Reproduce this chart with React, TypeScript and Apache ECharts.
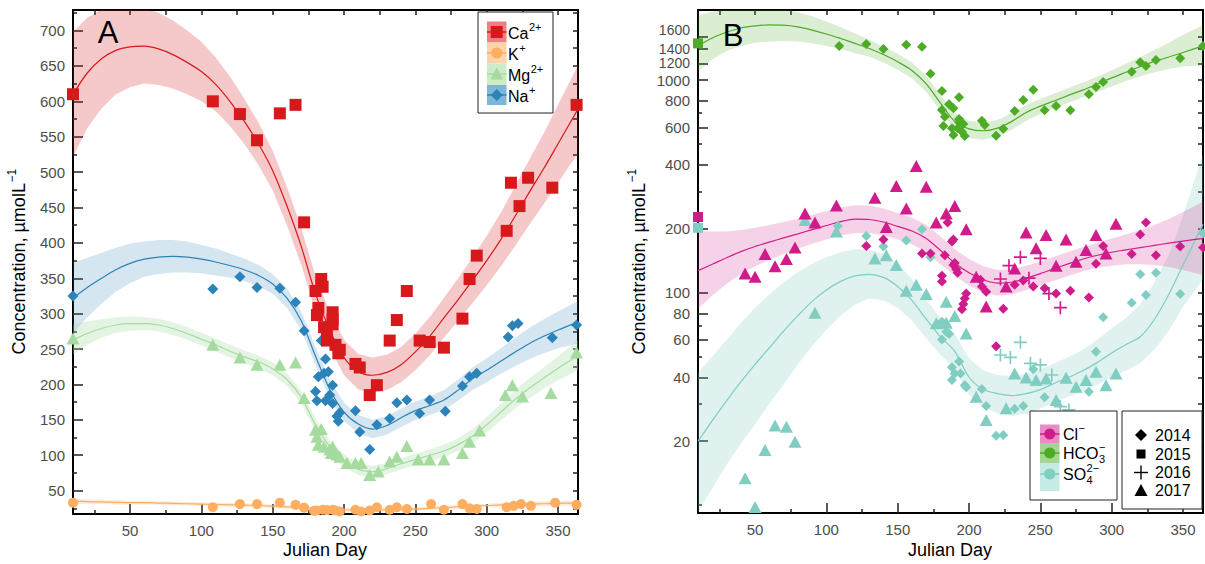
import React, { useEffect, useRef } from "react";
import * as echarts from "echarts";

const FONT = '"Liberation Sans", Arial, Helvetica, sans-serif';
const LABEL_COLOR = "#4d4d4d";

// ---------- shared axis ranges / tick values ----------
const X_MIN = 10;
const X_MAX = 364;
const X_MAJOR = [50, 100, 150, 200, 250, 300, 350];
const X_MINOR = [25, 75, 125, 175, 225, 275, 325];
const X_ALL = [25, 50, 75, 100, 125, 150, 175, 200, 225, 250, 275, 300, 325, 350];

const A_Y_MIN = 17;
const A_Y_MAX = 729;
const A_Y_MAJOR = [50, 100, 150, 200, 250, 300, 350, 400, 450, 500, 550, 600, 650, 700];
const A_Y_MINOR = [25, 75, 125, 175, 225, 275, 325, 375, 425, 475, 525, 575, 625, 675, 725];

const B_Y_MIN = 9.19;
const B_Y_MAX = 2139;
const B_Y_LOW = [20, 40, 60, 80, 100, 200, 400, 600, 800, 1000];
const B_Y_1200 = [1200];
const B_Y_1400 = [1400];
const B_Y_1600 = [1600];
const B_Y_MINOR = [10, 30, 50, 70, 300, 500, 700];

// ---------- fitted curves (days shared) ----------
const FIT_DAYS = [10, 20, 30, 40, 50, 60, 70, 80, 90, 100, 110, 120, 130, 140, 150, 160, 170, 180, 190, 200, 210, 220, 230, 240, 250, 260, 270, 280, 290, 300, 310, 320, 330, 340, 350, 364];

// Panel A
const CA_FIT = [610, 640, 660, 672, 677, 678, 674, 666, 655, 642, 624, 600, 572, 540, 502, 452, 395, 328, 277, 238, 218, 213, 217, 228, 246, 268, 294, 320, 347, 375, 405, 438, 472, 505, 540, 589];
const CA_LO = [522, 562, 590, 610, 620, 625, 623, 618, 610, 600, 586, 565, 540, 510, 474, 425, 369, 303, 252, 213, 193, 188, 192, 203, 220, 241, 266, 290, 315, 340, 367, 396, 426, 455, 485, 527];
const CA_HI = [698, 718, 730, 734, 734, 731, 725, 714, 700, 684, 662, 635, 604, 570, 530, 479, 421, 353, 302, 263, 243, 238, 242, 253, 272, 295, 322, 350, 379, 410, 443, 480, 518, 555, 595, 651];

const K_FIT = [35, 34.5, 34, 33.5, 33, 33, 32.5, 32, 31.5, 31, 30.5, 30, 29.5, 29, 28, 27, 26, 25, 24, 23, 22.5, 22.5, 23, 23.5, 24, 25, 26, 27, 28, 29, 30, 30.5, 31, 31.5, 32, 32.5];
const K_LO = [31, 31, 31, 30.5, 30.5, 30.5, 30, 29.5, 29, 28.5, 28, 27.5, 27, 26.5, 25.5, 24.5, 23.5, 22.5, 21.5, 20.5, 20, 20, 20.5, 21, 21.5, 22.5, 23.5, 24.5, 25.5, 26.5, 27, 27.5, 28, 28, 28.5, 28.5];
const K_HI = [39, 38, 37, 36.5, 35.5, 35.5, 35, 34.5, 34, 33.5, 33, 32.5, 32, 31.5, 30.5, 29.5, 28.5, 27.5, 26.5, 25.5, 25, 25, 25.5, 26, 26.5, 27.5, 28.5, 29.5, 30.5, 31.5, 33, 33.5, 34, 35, 35.5, 36.5];

const MG_FIT = [263, 272, 279, 284, 286, 286, 284, 279, 272, 264, 256, 247, 239, 232, 222, 207, 182, 143, 112, 92, 80, 77, 81, 88, 94, 100, 106, 115, 127, 143, 161, 179, 195, 209, 223, 241];
const MG_LO = [242, 256, 266, 273, 276, 277, 275, 270, 263, 255, 247, 238, 230, 223, 213, 198, 173, 134, 103, 83, 72, 69, 73, 80, 86, 92, 97, 106, 117, 132, 149, 166, 181, 194, 206, 220];
const MG_HI = [285, 289, 292, 295, 296, 295, 293, 288, 281, 273, 265, 256, 248, 241, 231, 216, 191, 152, 121, 101, 88, 85, 89, 96, 102, 108, 115, 124, 137, 154, 173, 192, 209, 224, 240, 262];

const NA_FIT = [322, 337, 350, 362, 371, 377, 380, 381, 380, 377, 373, 368, 362, 354, 342, 322, 290, 240, 193, 161, 144, 137, 142, 153, 163, 170, 178, 192, 208, 220, 233, 246, 258, 268, 277, 288];
const NA_LO = [272, 295, 314, 331, 343, 352, 356, 358, 358, 357, 354, 351, 346, 339, 328, 308, 277, 227, 180, 148, 131, 124, 129, 140, 150, 157, 164, 177, 192, 203, 215, 226, 236, 244, 251, 258];
const NA_HI = [372, 379, 386, 393, 399, 402, 404, 404, 402, 397, 392, 385, 378, 369, 356, 336, 303, 253, 206, 174, 157, 150, 155, 166, 176, 183, 192, 207, 224, 237, 251, 266, 280, 292, 303, 318];

// Panel B
const HCO3_FIT = [1450, 1580, 1680, 1760, 1800, 1820, 1815, 1780, 1720, 1650, 1570, 1490, 1410, 1320, 1220, 1110, 960, 780, 640, 590, 578, 595, 640, 705, 755, 800, 850, 900, 960, 1025, 1090, 1160, 1225, 1285, 1350, 1450];
const HCO3_LO = [1100, 1250, 1370, 1450, 1500, 1520, 1530, 1520, 1490, 1450, 1400, 1340, 1290, 1210, 1120, 1020, 880, 715, 588, 535, 525, 540, 585, 645, 695, 740, 785, 830, 880, 935, 990, 1040, 1090, 1130, 1160, 1175];
const HCO3_HI = [2020, 2100, 2150, 2180, 2190, 2180, 2150, 2090, 2000, 1890, 1780, 1660, 1550, 1440, 1330, 1210, 1050, 850, 700, 645, 630, 650, 700, 765, 815, 865, 920, 975, 1040, 1115, 1195, 1285, 1385, 1500, 1630, 1820];

const CL_FIT = [127, 136, 146, 156, 165, 173, 181, 189, 198, 207, 216, 222, 221, 215, 205, 195, 180, 158, 138, 124, 115, 111, 112, 117, 123, 130, 137, 144, 150, 155, 159, 163, 167, 171, 175, 180];
const CL_LO = [84, 97, 110, 122, 133, 143, 152, 161, 170, 178, 186, 191, 191, 186, 178, 169, 155, 136, 120, 108, 100, 97, 98, 103, 108, 114, 120, 126, 131, 134, 136, 136, 135, 132, 128, 121];
const CL_HI = [195, 194, 194, 197, 202, 208, 215, 223, 232, 242, 252, 258, 257, 249, 237, 225, 209, 184, 160, 144, 133, 128, 129, 134, 140, 148, 156, 164, 172, 180, 188, 197, 208, 222, 240, 268];

const SO4_FIT = [20, 25, 31, 38, 46, 55, 66, 78, 91, 103, 113, 120, 122, 118, 107, 92, 75, 62, 53, 40, 35, 33.5, 32.8, 33.5, 35, 37.5, 40, 43, 47, 52, 57, 62, 75, 98, 135, 210];
const SO4_LO = [9.3, 12, 15.5, 19.5, 24, 30, 37, 46, 56, 67, 78, 88, 94, 92, 85, 74, 61, 51, 44, 33, 29, 27, 26.3, 27, 28.5, 30.5, 32.5, 34.5, 37, 40, 43, 46.5, 54, 66, 86, 115];
const SO4_HI = [42, 50, 60, 72, 85, 98, 112, 125, 137, 147, 155, 160, 160, 152, 137, 116, 93, 76, 64, 49, 43, 41, 40.5, 41.5, 43.5, 46.5, 50, 54, 60, 68, 76, 88, 112, 150, 230, 450];

// ---------- observations [Julian day, µmol/L] ----------
const CA_PTS = [[10, 610], [108, 600], [127, 582], [139, 545], [155, 583], [166, 595], [172, 429], [184, 349], [185, 338], [180, 332], [182, 308], [181, 298], [192, 302], [192, 292], [186, 281], [192, 285], [188, 272], [188, 262], [194, 256], [197, 249], [196, 244], [208, 229], [211, 224], [223, 199], [218, 185], [232, 262], [237, 291], [244, 332], [253, 262], [260, 260], [270, 252], [283, 293], [288, 349], [293, 382], [314, 417], [317, 485], [323, 452], [329, 492], [346, 478], [363, 595]];
const K_PTS = [[10, 33], [108, 26.5], [127, 31], [139, 31], [155, 33], [166, 30], [172, 26], [179, 21.5], [181, 22], [185, 23], [188, 22.5], [192, 23], [194, 22], [197, 20.5], [208, 23], [212, 20.5], [218, 22], [223, 26.5], [232, 23], [237, 26.5], [244, 24], [261, 31], [270, 23], [283, 31], [288, 25], [293, 24], [314, 26.5], [319, 28.5], [324, 31], [331, 28.5], [348, 33], [363, 30]];
const MG_PTS = [[10, 265], [108, 256], [127, 238], [139, 228], [155, 228], [166, 231], [172, 181], [180, 136], [184, 137], [181, 126], [182, 115], [186, 112], [190, 108], [192, 112], [191, 103], [195, 101], [197, 98], [202, 89], [208, 89], [212, 89], [218, 72], [224, 77], [232, 91], [237, 98], [244, 113], [252, 94], [260, 94], [270, 94], [283, 103], [288, 119], [295, 135], [313, 185], [318, 199], [325, 183], [345, 188], [363, 245]];
const NA_PTS = [[10, 325], [108, 335], [127, 352], [139, 337], [155, 336], [166, 316], [172, 276], [184, 262], [187, 236], [189, 218], [186, 216], [182, 211], [180, 190], [181, 177], [192, 199], [187, 177], [190, 185], [192, 173], [195, 155], [197, 160], [196, 148], [208, 163], [211, 133], [218, 108], [223, 143], [232, 152], [237, 174], [244, 178], [253, 159], [260, 178], [271, 162], [283, 198], [288, 211], [293, 216], [315, 267], [318, 283], [322, 286], [346, 266], [363, 284]];

const HCO3_2014 = [[109, 1449], [128, 1480], [140, 1402], [156, 1469], [167, 1438], [173, 1073], [181, 890], [193, 831], [181, 724], [186, 770], [189, 738], [183, 673], [193, 657], [182, 609], [188, 594], [192, 594], [189, 552], [195, 572], [197, 546], [196, 622], [193, 634], [209, 645], [211, 615], [219, 548], [224, 591], [232, 716], [238, 807], [245, 902], [253, 722], [261, 756], [271, 722], [284, 858], [289, 929], [294, 980], [314, 1096], [320, 1214], [324, 1166], [331, 1245], [348, 1268], [364, 1449]];
const HCO3_2015 = [[10, 1490]];

const CL_2014 = [[128, 166], [140, 178], [167, 153], [173, 153], [185, 214], [188, 174], [189, 178], [183, 150], [189, 135], [190, 138], [192, 124], [191, 129], [181, 120], [181, 113], [198, 99], [197, 94], [196, 88.5], [195, 83.5], [208, 115], [209, 107], [212, 101], [224, 84], [232, 109], [238, 114], [245, 107], [253, 105], [261, 99], [271, 102], [284, 95], [289, 137], [294, 166], [314, 152], [320, 188], [324, 214], [331, 150], [348, 165], [364, 163], [219, 56]];
const CL_2015 = [[10, 227]];
const CL_2016 = [[222, 116], [228, 134], [236, 147], [250, 145], [242, 117], [256, 99], [264, 85]];
const CL_2017 = [[43, 123], [50, 119], [57, 152], [64, 133], [72, 144], [78, 163], [85, 236], [92, 214], [107, 257], [134, 280], [142, 204], [149, 318], [156, 249], [163, 395], [170, 315], [177, 214], [184, 236], [190, 256], [198, 199], [205, 119], [212, 86], [226, 107], [232, 130], [240, 192], [247, 162], [254, 187], [261, 134], [268, 178], [275, 140], [282, 159], [289, 187], [296, 153], [303, 211]];

const SO4_2014 = [[108, 206], [128, 185], [140, 165], [156, 176], [167, 199], [173, 147], [181, 73], [183, 70.5], [184, 65.5], [181, 60.3], [186, 64], [188, 44.6], [193, 47.4], [194, 41.7], [188, 38.8], [190, 41.7], [197, 36.7], [198, 35.9], [209, 35.2], [212, 29.3], [219, 21.2], [224, 21.4], [232, 28.4], [238, 29.3], [245, 43.6], [253, 32.2], [284, 34.2], [289, 52.8], [294, 76.6], [314, 89.7], [320, 122], [324, 97.5], [331, 124], [348, 98.6], [364, 190]];
const SO4_2015 = [[10, 202]];
const SO4_2016 = [[236, 58.4], [222, 50.9], [229, 49.6], [243, 46.5], [250, 45.7], [258, 41], [264, 29.1], [270, 28.1]];
const SO4_2017 = [[43, 13.4], [50, 9.8], [57, 18.2], [64, 23.7], [72, 23.4], [78, 19.9], [85, 220], [92, 80.5], [107, 194], [134, 145], [142, 150], [149, 135], [156, 102], [163, 109], [170, 98.6], [184, 90.7], [177, 71.8], [184, 72.2], [190, 77.7], [198, 64.2], [205, 32.4], [212, 25.2], [226, 28.6], [232, 41.7], [240, 39.9], [247, 38.8], [254, 39.5], [261, 31.3], [268, 39.8], [275, 36.1], [282, 38.8], [289, 42.5], [296, 36.7], [303, 41.7]];

// ---------- colours ----------
const C = {
  ca: "#d7191c", caBand: "rgba(215,25,28,0.24)", caSw: "#ee8184",
  k: "#fdae61", kBand: "rgba(253,174,97,0.25)", kSw: "#fdd3a8",
  mg: "#a6dba0", mgBand: "rgba(166,219,160,0.3)", mgSw: "#cdebc8",
  na: "#2b83ba", naBand: "rgba(43,131,186,0.2)", naSw: "#80b5da",
  cl: "#d01c8b", clBand: "rgba(208,28,139,0.2)", clSw: "#e68dc4",
  hco3: "#4dac26", hco3Band: "rgba(77,172,38,0.2)", hco3Sw: "#a5d690",
  so4: "#80cdc1", so4Band: "rgba(128,205,193,0.25)", so4Sw: "#c6ebe5",
};

const CROSS = "path://M4.35,0H5.65V10H4.35Z M0,4.35H10V5.65H0Z";

function measure(s: string, size: number): number {
  const ctx = document.createElement("canvas").getContext("2d");
  if (!ctx) return s.length * size * 0.55;
  ctx.font = `${size}px ${FONT}`;
  return ctx.measureText(s).width;
}

function band(xi: number, yi: number, lo: number[], hi: number[], color: string) {
  return {
    type: "custom",
    xAxisIndex: xi,
    yAxisIndex: yi,
    clip: true,
    silent: true,
    z: 1,
    data: [[FIT_DAYS[0], lo[0]]],
    renderItem: (_p: any, api: any) => {
      const pts: number[][] = [];
      for (let i = 0; i < FIT_DAYS.length; i++) pts.push(api.coord([FIT_DAYS[i], hi[i]]));
      for (let i = FIT_DAYS.length - 1; i >= 0; i--) pts.push(api.coord([FIT_DAYS[i], lo[i]]));
      return { type: "polygon", shape: { points: pts }, style: { fill: color } };
    },
  };
}

function fitLine(xi: number, yi: number, fit: number[], color: string) {
  return {
    type: "line",
    xAxisIndex: xi,
    yAxisIndex: yi,
    data: FIT_DAYS.map((d, i) => [d, fit[i]]),
    smooth: 0.3,
    showSymbol: false,
    symbol: "none",
    silent: true,
    z: 2,
    lineStyle: { color, width: 1.2 },
  };
}

function pts(xi: number, yi: number, data: number[][], symbol: string, size: any, color: string) {
  return {
    type: "scatter",
    xAxisIndex: xi,
    yAxisIndex: yi,
    data,
    symbol,
    symbolSize: size,
    silent: true,
    z: 3,
    itemStyle: { color, opacity: 1 },
  };
}

const tickLine = { color: "#222", width: 1.5 };
const frameLine = { color: "#000", width: 2 };

function xAxesFor(grid: number) {
  return [
    {
      gridIndex: grid, type: "value", min: X_MIN, max: X_MAX, position: "bottom",
      axisLine: { show: true, onZero: false, lineStyle: frameLine },
      axisTick: { show: true, inside: true, length: 10, customValues: X_MAJOR, lineStyle: tickLine },
      axisLabel: { show: true, customValues: X_MAJOR, color: LABEL_COLOR, fontSize: 15, margin: 9, fontFamily: FONT, hideOverlap: false, showMinLabel: true, showMaxLabel: true },
      splitLine: { show: false },
    },
    {
      gridIndex: grid, type: "value", min: X_MIN, max: X_MAX, position: "bottom",
      axisLine: { show: false },
      axisTick: { show: true, inside: true, length: 4, customValues: X_MINOR, lineStyle: tickLine },
      axisLabel: { show: false },
      splitLine: { show: false },
    },
    {
      gridIndex: grid, type: "value", min: X_MIN, max: X_MAX, position: "top",
      axisLine: { show: true, onZero: false, lineStyle: frameLine },
      axisTick: { show: true, inside: true, length: 5, customValues: X_ALL, lineStyle: tickLine },
      axisLabel: { show: false },
      splitLine: { show: false },
    },
  ];
}

function buildOption() {
  const lgMin = Math.log10(B_Y_MIN);
  const lgMax = Math.log10(B_Y_MAX);
  const lg = (a: number[]) => a.map((v) => Math.log10(v));
  const fmtPow = (v: number) => String(Math.round(Math.pow(10, v)));

  const bLabelAxis = (vals: number[], size: number, vAlign: string) => ({
    gridIndex: 1, type: "value", min: lgMin, max: lgMax, position: "left",
    axisLine: { show: false },
    axisTick: { show: true, inside: true, length: 10, customValues: lg(vals), lineStyle: tickLine },
    axisLabel: {
      show: true, customValues: lg(vals), color: LABEL_COLOR, fontSize: size, lineHeight: size, margin: 8, fontFamily: FONT,
      verticalAlign: vAlign, hideOverlap: false, showMinLabel: true, showMaxLabel: true, formatter: fmtPow,
    },
    splitLine: { show: false },
  });

  const yAxis = [
    {
      gridIndex: 0, type: "value", min: A_Y_MIN, max: A_Y_MAX, position: "left",
      axisLine: { show: true, onZero: false, lineStyle: frameLine },
      axisTick: { show: true, inside: true, length: 10, customValues: A_Y_MAJOR, lineStyle: tickLine },
      axisLabel: { show: true, customValues: A_Y_MAJOR, color: LABEL_COLOR, fontSize: 15, margin: 8, fontFamily: FONT, hideOverlap: false, showMinLabel: true, showMaxLabel: true },
      splitLine: { show: false },
    },
    {
      gridIndex: 0, type: "value", min: A_Y_MIN, max: A_Y_MAX, position: "left",
      axisLine: { show: false },
      axisTick: { show: true, inside: true, length: 4, customValues: A_Y_MINOR, lineStyle: tickLine },
      axisLabel: { show: false }, splitLine: { show: false },
    },
    {
      gridIndex: 0, type: "value", min: A_Y_MIN, max: A_Y_MAX, position: "right",
      axisLine: { show: true, onZero: false, lineStyle: frameLine },
      axisTick: { show: true, inside: true, length: 5, customValues: [...A_Y_MAJOR, ...A_Y_MINOR], lineStyle: tickLine },
      axisLabel: { show: false }, splitLine: { show: false },
    },
    {
      gridIndex: 1, type: "log", logBase: 10, min: B_Y_MIN, max: B_Y_MAX, position: "left",
      axisLine: { show: true, onZero: false, lineStyle: frameLine },
      axisTick: { show: false }, minorTick: { show: false },
      axisLabel: { show: false }, splitLine: { show: false }, minorSplitLine: { show: false },
    },
    bLabelAxis(B_Y_LOW, 15, "middle"),
    {
      gridIndex: 1, type: "value", min: lgMin, max: lgMax, position: "left",
      axisLine: { show: false },
      axisTick: { show: true, inside: true, length: 4, customValues: lg(B_Y_MINOR), lineStyle: tickLine },
      axisLabel: { show: false }, splitLine: { show: false },
    },
    {
      gridIndex: 1, type: "value", min: lgMin, max: lgMax, position: "right",
      axisLine: { show: true, onZero: false, lineStyle: frameLine },
      axisTick: { show: true, inside: true, length: 5, customValues: lg([...B_Y_LOW, ...B_Y_1200, ...B_Y_1400, ...B_Y_1600, ...B_Y_MINOR]), lineStyle: tickLine },
      axisLabel: { show: false }, splitLine: { show: false },
    },
    bLabelAxis(B_Y_1600, 14, "bottom"),
    bLabelAxis(B_Y_1400, 14, "middle"),
    bLabelAxis(B_Y_1200, 14, "middle"),
  ];

  const series: any[] = [
    // Panel A
    band(0, 0, NA_LO, NA_HI, C.naBand),
    band(0, 0, MG_LO, MG_HI, C.mgBand),
    band(0, 0, K_LO, K_HI, C.kBand),
    band(0, 0, CA_LO, CA_HI, C.caBand),
    fitLine(0, 0, NA_FIT, C.na),
    fitLine(0, 0, MG_FIT, C.mg),
    fitLine(0, 0, K_FIT, C.k),
    fitLine(0, 0, CA_FIT, C.ca),
    pts(0, 0, K_PTS, "circle", 10, C.k),
    pts(0, 0, MG_PTS, "triangle", [13, 12], C.mg),
    pts(0, 0, NA_PTS, "diamond", 11, C.na),
    pts(0, 0, CA_PTS, "rect", 12, C.ca),
    // Panel B
    band(3, 3, SO4_LO, SO4_HI, C.so4Band),
    band(3, 3, CL_LO, CL_HI, C.clBand),
    band(3, 3, HCO3_LO, HCO3_HI, C.hco3Band),
    fitLine(3, 3, SO4_FIT, C.so4),
    fitLine(3, 3, CL_FIT, C.cl),
    fitLine(3, 3, HCO3_FIT, C.hco3),
    pts(3, 3, SO4_2017, "triangle", [13, 12], C.so4),
    pts(3, 3, SO4_2014, "diamond", 10, C.so4),
    pts(3, 3, SO4_2016, CROSS, 13, C.so4),
    pts(3, 3, SO4_2015, "rect", 10, C.so4),
    pts(3, 3, CL_2017, "triangle", [13, 12], C.cl),
    pts(3, 3, CL_2014, "diamond", 10, C.cl),
    pts(3, 3, CL_2016, CROSS, 13, C.cl),
    pts(3, 3, CL_2015, "rect", 10, C.cl),
    pts(3, 3, HCO3_2014, "diamond", 10, C.hco3),
    pts(3, 3, HCO3_2015, "rect", 10, C.hco3),
  ];

  // ---------- graphic: titles, panel letters, legends ----------
  const g: any[] = [];
  const txt = (x: number, y: number, text: string, size: number, align = "left", fill = "#000") => ({
    type: "text", x, y, z: 100,
    style: { text, fontSize: size, fontFamily: FONT, fill, align, verticalAlign: "middle", textAlign: align, textVerticalAlign: "middle" },
  });

  g.push(txt(108, 32, "A", 31, "center"));
  g.push(txt(733, 35, "B", 31, "center"));
  g.push(txt(325, 550, "Julian Day", 18, "center"));
  g.push(txt(950, 550, "Julian Day", 18, "center"));

  const yTitle = (cx: number, cy: number) => {
    const main = "Concentration, \u00b5molL";
    const wMain = measure(main, 18);
    const wSup = measure("\u22121", 12);
    const total = wMain + wSup;
    return {
      type: "group", x: cx, y: cy, rotation: Math.PI / 2, z: 100,
      children: [
        txt(-total / 2, 0, main, 18),
        txt(-total / 2 + wMain + 0.5, -7, "\u22121", 12),
      ],
    };
  };
  g.push(yTitle(19, 262));
  g.push(yTitle(639, 262));

  const marker = (kind: string, cx: number, cy: number, fill: string) => {
    if (kind === "rect") return { type: "rect", z: 101, shape: { x: cx - 6, y: cy - 6, width: 12, height: 12 }, style: { fill } };
    if (kind === "square") return { type: "rect", z: 101, shape: { x: cx - 4.5, y: cy - 4.5, width: 9, height: 9 }, style: { fill } };
    if (kind === "circle") return { type: "circle", z: 101, shape: { cx, cy, r: 5.5 }, style: { fill } };
    if (kind === "triangle") return { type: "polygon", z: 101, shape: { points: [[cx, cy - 6.5], [cx + 6.5, cy + 5.5], [cx - 6.5, cy + 5.5]] }, style: { fill } };
    if (kind === "diamond") return { type: "polygon", z: 101, shape: { points: [[cx, cy - 6], [cx + 6, cy], [cx, cy + 6], [cx - 6, cy]] }, style: { fill } };
    return {
      type: "group", z: 101,
      children: [
        { type: "line", z: 101, shape: { x1: cx - 7, y1: cy, x2: cx + 7, y2: cy }, style: { stroke: fill, lineWidth: 1.4 } },
        { type: "line", z: 101, shape: { x1: cx, y1: cy - 7, x2: cx, y2: cy + 7 }, style: { stroke: fill, lineWidth: 1.4 } },
      ],
    };
  };

  // Legend A
  g.push({ type: "rect", z: 99, shape: { x: 478, y: 12, width: 75, height: 101 }, style: { fill: "#fff", stroke: "#222", lineWidth: 1 } });
  const legA = [
    { main: "Ca", sup: "2+", y: 32, sw: C.caSw, col: C.ca, m: "rect", t: 21.5, b: 42.5 },
    { main: "K", sup: "+", y: 53, sw: C.kSw, col: C.k, m: "circle", t: 42.5, b: 63.5 },
    { main: "Mg", sup: "2+", y: 74, sw: C.mgSw, col: C.mg, m: "triangle", t: 63.5, b: 85 },
    { main: "Na", sup: "+", y: 95, sw: C.naSw, col: C.na, m: "diamond", t: 85, b: 105 },
  ];
  legA.forEach((r) => {
    g.push({ type: "rect", z: 100, shape: { x: 487, y: r.t, width: 19.5, height: r.b - r.t }, style: { fill: r.sw } });
    g.push({ type: "line", z: 100, shape: { x1: 487, y1: r.y, x2: 506.5, y2: r.y }, style: { stroke: r.col, lineWidth: 1.5 } });
    g.push(marker(r.m, 496.75, r.y, r.col));
    const w = measure(r.main, 16);
    g.push(txt(508, r.y + 1, r.main, 16));
    g.push(txt(508 + w + 0.5, r.y - 5, r.sup, 11));
  });

  // Legend B (ions)
  g.push({ type: "rect", z: 99, shape: { x: 1030, y: 411, width: 87, height: 89 }, style: { fill: "#fff", stroke: "#222", lineWidth: 1 } });
  const legB = [
    { main: "Cl", sub: "", sup: "\u2212", y: 434, sw: C.clSw, col: C.cl, t: 424.5, b: 443 },
    { main: "HCO", sub: "3", sup: "\u2212", y: 453, sw: C.hco3Sw, col: C.hco3, t: 443, b: 463.5 },
    { main: "SO", sub: "4", sup: "2\u2212", y: 474, sw: C.so4Sw, col: C.so4, t: 463.5, b: 491 },
  ];
  legB.forEach((r) => {
    g.push({ type: "rect", z: 100, shape: { x: 1040, y: r.t, width: 19.5, height: r.b - r.t }, style: { fill: r.sw } });
    g.push({ type: "line", z: 100, shape: { x1: 1040, y1: r.y, x2: 1059.5, y2: r.y }, style: { stroke: r.col, lineWidth: 1.5 } });
    g.push(marker("circle", 1049.75, r.y, r.col));
    const w = measure(r.main, 16);
    g.push(txt(1063, r.y, r.main, 16));
    if (r.sub) g.push(txt(1063 + w + 0.5, r.y + 6, r.sub, 11));
    g.push(txt(1063 + w + 0.5, r.y - 6, r.sup, 11));
  });

  // Legend B (years)
  g.push({ type: "rect", z: 99, shape: { x: 1122, y: 411, width: 80, height: 98 }, style: { fill: "#fff", stroke: "#222", lineWidth: 1 } });
  const legY = [
    { t: "2014", m: "diamond", y: 435 },
    { t: "2015", m: "square", y: 454 },
    { t: "2016", m: "plus", y: 472.5 },
    { t: "2017", m: "triangle", y: 490.5 },
  ];
  legY.forEach((r) => {
    g.push(marker(r.m, 1141, r.y, "#000"));
    g.push(txt(1155, r.y, r.t, 16));
  });

  return {
    animation: false,
    backgroundColor: "#fff",
    textStyle: { fontFamily: FONT },
    grid: [
      { left: 73, top: 10, width: 505, height: 504, containLabel: false, outerBoundsMode: "none" },
      { left: 698, top: 10, width: 505, height: 503, containLabel: false, outerBoundsMode: "none" },
    ],
    xAxis: [...xAxesFor(0), ...xAxesFor(1)],
    yAxis,
    series,
    graphic: { elements: g },
  };
}

export default function App() {
  const ref = useRef<HTMLDivElement>(null);
  useEffect(() => {
    if (!ref.current) return;
    const chart = echarts.init(ref.current, null, { renderer: "svg" });
    chart.setOption(buildOption() as any);
    return () => chart.dispose();
  }, []);
  return (
    <div
      ref={ref}
      style={{ position: "absolute", left: 0, top: 0, width: 1205, height: 564, background: "#fff" }}
    />
  );
}
